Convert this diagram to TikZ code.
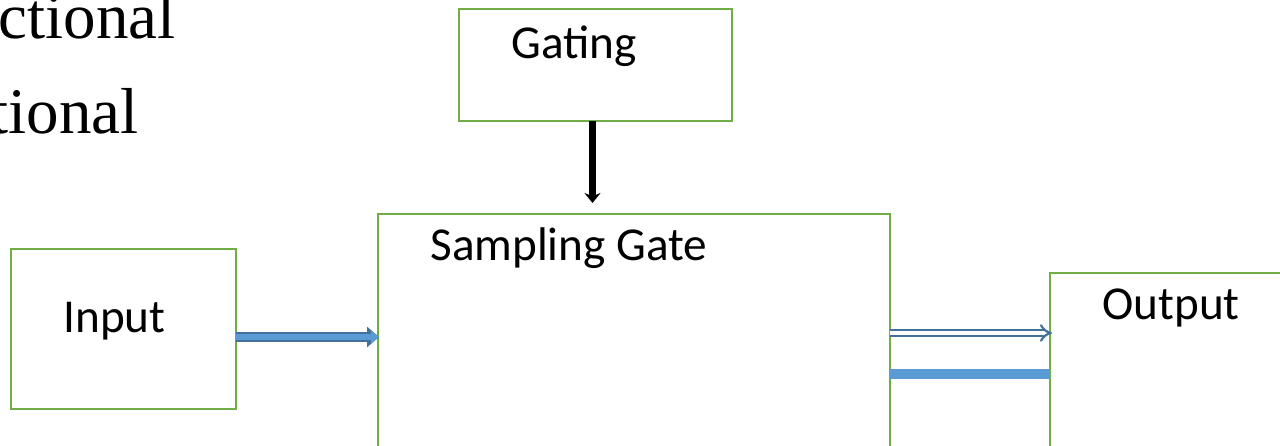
\documentclass[tikz,border=0pt]{standalone}
\usepackage{fontspec}
\setmainfont{Liberation Serif}
\newfontfamily\boxfont{Carlito}
\usetikzlibrary{arrows.meta, calc}
\definecolor{boxgreen}{HTML}{70AD47}
\definecolor{fillblue}{HTML}{5B9BD5}
\definecolor{edgeblue}{HTML}{41719C}

\begin{document}
\begin{tikzpicture}[
    x=0.5pt, y=-0.5pt,
    box/.style={draw=boxgreen, line width=1.3pt, inner sep=0pt, outer sep=0pt},
    boxtext/.style={font=\boxfont\fontsize{23.6}{28}\selectfont, inner sep=0pt, anchor=base west},
    bgtext/.style={font=\fontsize{32.5}{38}\selectfont, inner sep=0pt, anchor=base east},
    gatearrow/.style={black, line width=3.2pt, -{Stealth[length=5pt, width=8pt]}},
    feedarrow/.style={fillblue, line width=3.4pt,
      preaction={draw=edgeblue, line width=5pt, -{Triangle[length=6pt, width=10pt]}},
      -{Triangle[length=4pt, width=6.5pt]}, shorten >=1pt},
    passarrow/.style={draw=edgeblue, line width=1.1pt, double=white, double distance=1.8pt, -{Implies}},
    band/.style={fillblue, line width=4.8pt}
  ]
  \useasboundingbox (0,0) rectangle (1280,445);
  \clip (0,0) rectangle (1280,445);

  % ---- Text behind, cut at the left edge ----
  \node[bgtext] (line1) at (176,38) {ctional};
  \node[bgtext] (line2) at (139,133) {tional};

  % ---- Boxes ----
  \node[box, minimum width=112.5pt, minimum height=80pt] (input) at (123.5,329) {};
  \node[box, minimum width=136.5pt, minimum height=56pt] (gating) at (595.5,65) {};
  \node[box, minimum width=256pt, minimum height=173pt] (sampling) at (634,387) {};
  \node[box, minimum width=175pt, minimum height=143.5pt] (output) at (1225,416.5) {};

  % ---- Labels ----
  \node[boxtext] (inputlabel) at (63,332) {Input};
  \node[boxtext] (gatinglabel) at (511,58) {Gating};
  \node[boxtext] (samplinglabel) at (430,260) {Sampling Gate};
  \node[boxtext] (outputlabel) at (1102,319) {Output};

  % ---- Connectors ----
  \coordinate (gatein) at ($(gating.south)+(-3,82)$);
  \draw[gatearrow] ($(gating.south)+(-3,0)$) -- (gatein);
  \draw[feedarrow] ($(input.east)+(0,8)$) -- ($(sampling.west |- input.east)+(3,8)$);
  \coordinate (passout) at (sampling.east |- 0,333);
  \draw[passarrow] (passout) -- ($(output.west |- passout)+(2,0)$);
  \coordinate (bandout) at (sampling.east |- 0,374);
  \draw[band] (bandout) -- (output.west |- bandout);

\end{tikzpicture}
\end{document}
